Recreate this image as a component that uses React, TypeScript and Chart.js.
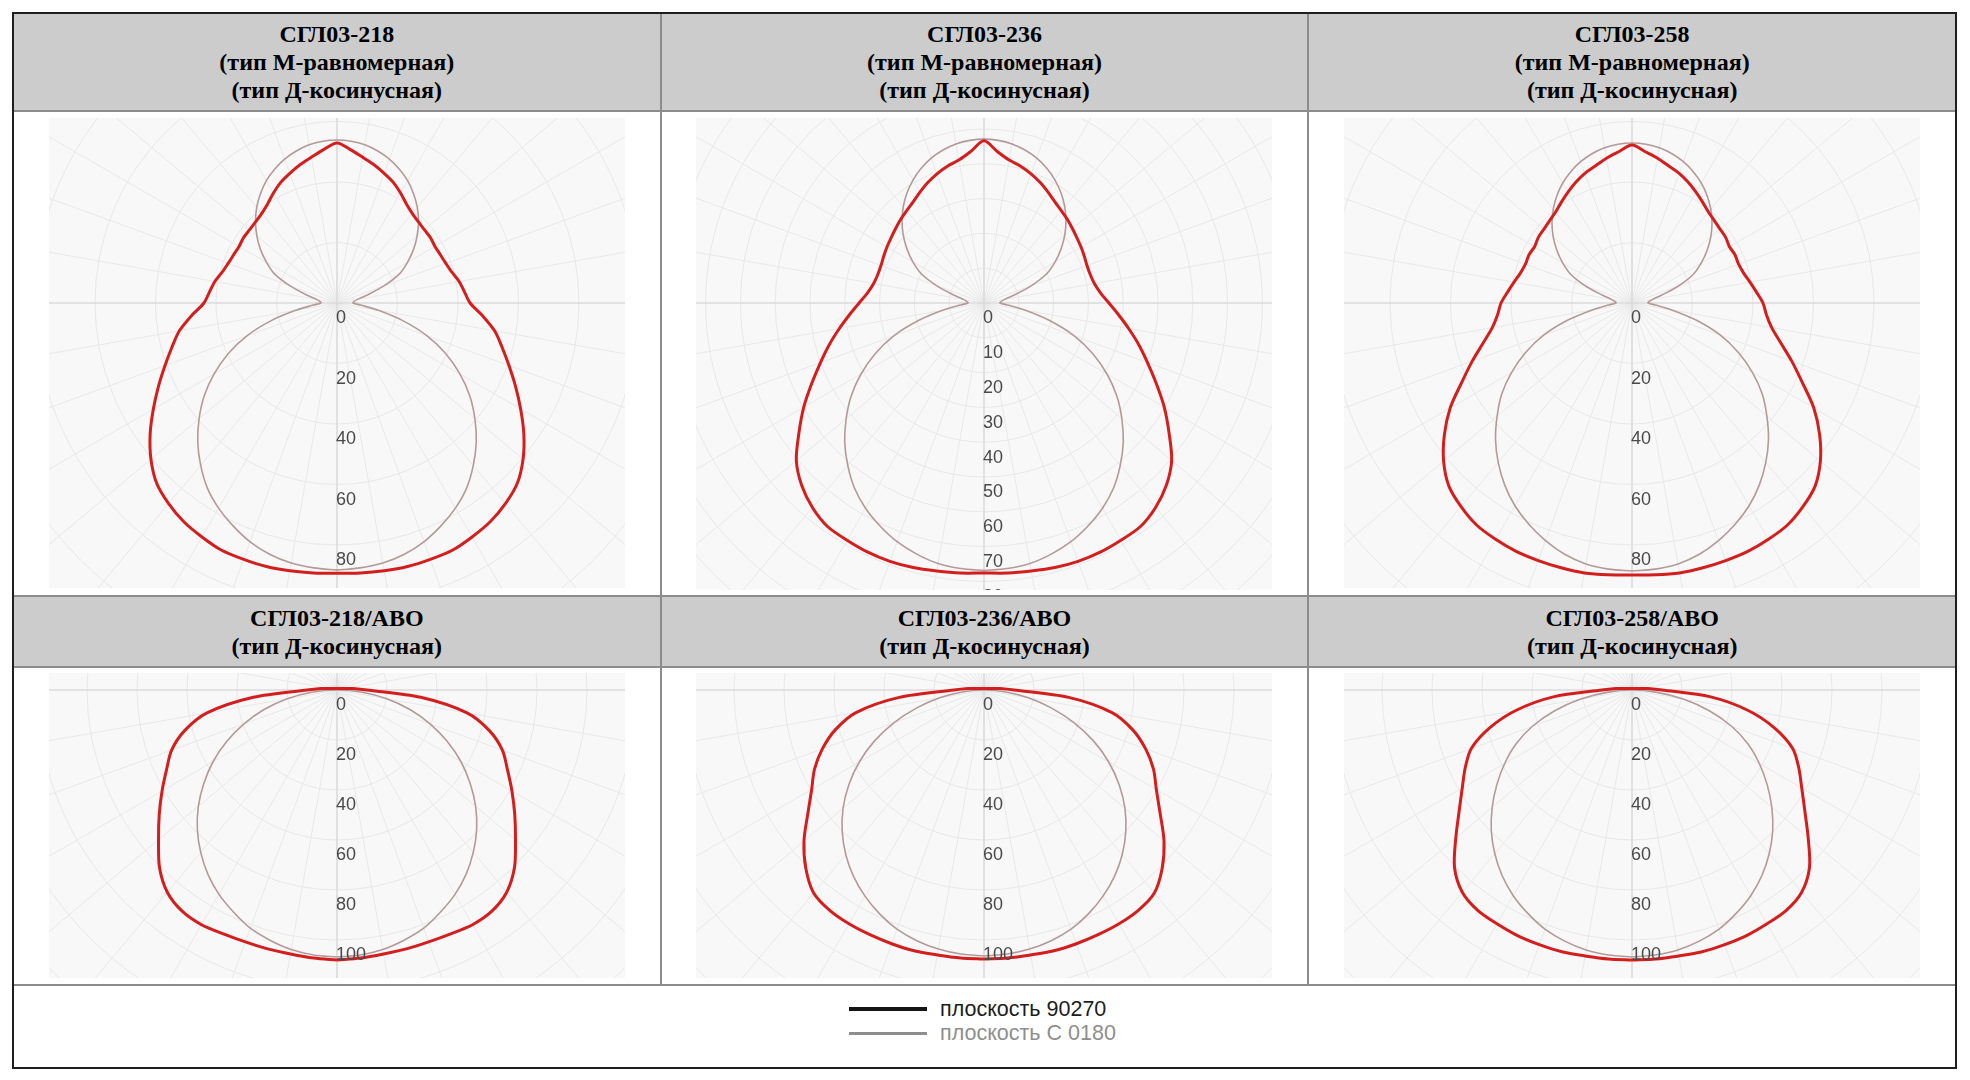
import React, { useEffect, useRef } from "react";
import { Chart, registerables } from "chart.js";

Chart.register(...registerables);

// Polar angle from nadir (0°) to zenith (180°), step 5°
const ANGLES = [0, 5, 10, 15, 20, 25, 30, 35, 40, 45, 50, 55, 60, 65, 70, 75, 80, 85, 90, 95, 100, 105, 110, 115, 120, 125, 130, 135, 140, 145, 150, 155, 160, 165, 170, 175, 180];

const TITLE_TOP = ["СГЛ03-218", "СГЛ03-236", "СГЛ03-258"];
const TITLE_BOTTOM = ["СГЛ03-218/АВО", "СГЛ03-236/АВО", "СГЛ03-258/АВО"];
const SUB_M = "(тип М-равномерная)";
const SUB_D = "(тип Д-косинусная)";
const LEGEND_LABELS = ["плоскость 90270", "плоскость С 0180"];

const TICKS_218 = [0, 20, 40, 60, 80];
const TICKS_236 = [0, 10, 20, 30, 40, 50, 60, 70, 80];
const TICKS_258 = [0, 20, 40, 60, 80];
const TICKS_ABO = [0, 20, 40, 60, 80, 100];

// plane 90-270 (thick red) and plane C 0-180 (thin grey), values per ANGLES
const RED_218 = [89.3, 89.6, 89.9, 90.2, 90.2, 90.2, 89.3, 88.3, 86.6, 84.3, 80.3, 75.4, 70.1, 65.1, 60.5, 56.5, 52.9, 48.3, 44.0, 42.3, 41.0, 39.3, 38.3, 37.7, 37.4, 37.7, 37.7, 38.0, 38.7, 40.0, 42.0, 44.0, 45.6, 47.3, 48.9, 50.9, 52.9];
const GRAY_218 = [88.3, 87.9, 87.3, 86.0, 84.0, 81.3, 78.3, 74.7, 70.1, 65.1, 59.5, 53.6, 46.9, 39.7, 31.7, 22.5, 13.9, 7.9, 5.3, 5.6, 6.9, 10.6, 16.5, 22.8, 26.9, 30.9, 34.6, 38.1, 41.3, 44.1, 46.7, 48.8, 50.6, 52.0, 53.1, 53.7, 53.9];

const RED_236 = [77.6, 77.9, 78.2, 78.7, 79.0, 79.0, 78.7, 78.4, 76.7, 74.1, 70.4, 64.9, 59.8, 54.6, 50.0, 46.0, 42.2, 38.8, 35.9, 33.6, 32.2, 31.6, 31.5, 31.8, 32.2, 32.6, 33.2, 33.9, 34.6, 35.5, 36.8, 38.2, 39.5, 40.7, 41.7, 43.7, 46.6];
const GRAY_236 = [76.9, 76.6, 76.0, 74.7, 73.0, 70.7, 68.1, 64.9, 60.9, 56.6, 51.7, 46.6, 40.8, 34.5, 27.6, 19.5, 12.1, 6.9, 4.6, 4.9, 6.0, 9.2, 14.4, 19.9, 23.6, 27.0, 30.3, 33.3, 36.1, 38.6, 40.8, 42.7, 44.3, 45.5, 46.4, 46.9, 47.1];

const RED_258 = [89.9, 90.2, 90.6, 90.6, 90.6, 90.6, 90.2, 89.6, 87.9, 85.6, 81.3, 75.7, 69.4, 62.1, 56.2, 50.9, 46.9, 44.6, 43.3, 41.3, 39.6, 38.2, 37.5, 37.6, 37.2, 37.8, 38.0, 38.5, 39.3, 40.7, 42.3, 44.0, 45.6, 46.9, 48.6, 50.2, 52.2];
const GRAY_258 = [88.6, 88.3, 87.6, 86.0, 83.6, 80.7, 77.4, 73.4, 68.8, 63.8, 58.2, 52.6, 46.0, 38.8, 31.1, 22.1, 13.6, 7.9, 5.3, 5.6, 6.9, 10.2, 16.2, 22.3, 26.4, 30.3, 34.0, 37.4, 40.5, 43.3, 45.8, 47.9, 49.7, 51.1, 52.1, 52.7, 52.9];

const RED_218_ABO = [108, 107.6, 107.2, 107.2, 107.2, 107.6, 108.4, 108.0, 105.6, 100.4, 93.2, 86.8, 80.8, 75.2, 70.4, 63.2, 52.8, 33.6, 12, 6.4, 3.6, 2.4, 1.8, 1.4, 1.2, 1.1, 1.0, 0.9, 0.8, 0.8, 0.7, 0.7, 0.6, 0.6, 0.6, 0.6, 0.6];
const GRAY_218_ABO = [106.8, 106.4, 105.4, 103.6, 101.4, 98.0, 94.4, 90.0, 84.8, 79.0, 72.4, 65.0, 57.2, 48.6, 39.6, 30.2, 20.2, 10.2, 0];

const RED_236_ABO = [107.6, 107.6, 107.6, 108, 108, 108, 108, 107.6, 106, 100.8, 94, 86, 79.6, 74.8, 68.8, 61.6, 52, 34, 12, 6.4, 3.6, 2.4, 1.8, 1.4, 1.2, 1.1, 1.0, 0.9, 0.8, 0.8, 0.7, 0.7, 0.6, 0.6, 0.6, 0.6, 0.6];
const GRAY_236_ABO = [106.4, 106.0, 105.2, 103.8, 101.8, 98.8, 95.2, 91.0, 86.0, 80.2, 73.6, 66.0, 57.6, 48.4, 38.4, 28.0, 18.0, 8.8, 0];

const RED_258_ABO = [108, 108, 108, 108.4, 108.4, 108.4, 108, 107.6, 105.6, 100.4, 92, 84.4, 78.4, 73.6, 68.4, 59.2, 47.2, 31.6, 12, 6.4, 3.6, 2.4, 1.8, 1.4, 1.2, 1.1, 1.0, 0.9, 0.8, 0.8, 0.7, 0.7, 0.6, 0.6, 0.6, 0.6, 0.6];
const GRAY_258_ABO = [106.8, 106.4, 105.6, 104.0, 101.8, 98.6, 95.0, 90.6, 85.4, 79.6, 73.0, 66.0, 58.8, 51.2, 42.4, 32.0, 20.8, 9.6, 0];

type PolarCfg = {
  red: number[];
  gray: number[];
  ticks: number[];
  ringStep: number;
  ppu: number; // pixels per unit
  width: number;
  height: number;
  cx: number;
  cy: number;
  top: number;
};

const TOP_CHARTS: PolarCfg[] = [
  { red: RED_218, gray: GRAY_218, ticks: TICKS_218, ringStep: 20, ppu: 3.025, width: 576, height: 470, cx: 288, cy: 185, top: 6 },
  { red: RED_236, gray: GRAY_236, ticks: TICKS_236, ringStep: 10, ppu: 3.48, width: 576, height: 472, cx: 288, cy: 185, top: 6 },
  { red: RED_258, gray: GRAY_258, ticks: TICKS_258, ringStep: 20, ppu: 3.025, width: 576, height: 470, cx: 288, cy: 185, top: 6 },
];

const BOTTOM_CHARTS: PolarCfg[] = [
  { red: RED_218_ABO, gray: GRAY_218_ABO, ticks: TICKS_ABO, ringStep: 20, ppu: 2.5, width: 576, height: 305, cx: 288, cy: 17, top: 5 },
  { red: RED_236_ABO, gray: GRAY_236_ABO, ticks: TICKS_ABO, ringStep: 20, ppu: 2.5, width: 576, height: 305, cx: 288, cy: 17, top: 5 },
  { red: RED_258_ABO, gray: GRAY_258_ABO, ticks: TICKS_ABO, ringStep: 20, ppu: 2.5, width: 576, height: 305, cx: 288, cy: 17, top: 5 },
];

function toPoints(values: number[]) {
  const n = values.length;
  const pts: { x: number; y: number }[] = [];
  for (let i = 0; i < n; i++) {
    const t = (ANGLES[i] * Math.PI) / 180;
    pts.push({ x: values[i] * Math.sin(t), y: -values[i] * Math.cos(t) });
  }
  for (let i = n - 2; i >= 0; i--) {
    const t = (ANGLES[i] * Math.PI) / 180;
    pts.push({ x: -values[i] * Math.sin(t), y: -values[i] * Math.cos(t) });
  }
  return pts;
}

function makeGridPlugin(cfg: PolarCfg) {
  return {
    id: "polarGrid",
    beforeDatasetsDraw(chart: any) {
      const { ctx, chartArea: a } = chart;
      const xs = chart.scales.x;
      const ys = chart.scales.y;
      const cx = xs.getPixelForValue(0);
      const cy = ys.getPixelForValue(0);
      const ppu = xs.getPixelForValue(1) - cx;
      ctx.save();
      ctx.fillStyle = "#f8f8f8";
      ctx.fillRect(a.left, a.top, a.right - a.left, a.bottom - a.top);
      ctx.beginPath();
      ctx.rect(a.left, a.top, a.right - a.left, a.bottom - a.top);
      ctx.clip();
      const maxR = Math.hypot(a.right - a.left, a.bottom - a.top);
      ctx.strokeStyle = "#e8e8e8";
      ctx.lineWidth = 1;
      for (let v = cfg.ringStep; v * ppu < maxR; v += cfg.ringStep) {
        ctx.beginPath();
        ctx.arc(cx, cy, v * ppu, 0, Math.PI * 2);
        ctx.stroke();
      }
      for (let d = 0; d < 360; d += 10) {
        if (d % 90 === 0) continue;
        const t = (d * Math.PI) / 180;
        ctx.beginPath();
        ctx.moveTo(cx, cy);
        ctx.lineTo(cx + maxR * Math.cos(t), cy + maxR * Math.sin(t));
        ctx.stroke();
      }
      ctx.strokeStyle = "#dadada";
      ctx.lineWidth = 1.6;
      ctx.beginPath();
      ctx.moveTo(a.left, cy);
      ctx.lineTo(a.right, cy);
      ctx.moveTo(cx, a.top);
      ctx.lineTo(cx, a.bottom);
      ctx.stroke();
      ctx.restore();
    },
    afterDatasetsDraw(chart: any) {
      const { ctx } = chart;
      const xs = chart.scales.x;
      const ys = chart.scales.y;
      const cx = xs.getPixelForValue(0);
      ctx.save();
      ctx.font = '18px "Liberation Sans", Arial, sans-serif';
      ctx.fillStyle = "#4a4a4a";
      ctx.textAlign = "left";
      ctx.textBaseline = "middle";
      cfg.ticks.forEach((v) => {
        const y = ys.getPixelForValue(-v) + 15.5;
        ctx.fillText(String(v), cx - 1, y);
      });
      ctx.restore();
    },
  };
}

function PolarChart({ cfg }: { cfg: PolarCfg }) {
  const ref = useRef<HTMLCanvasElement | null>(null);
  useEffect(() => {
    if (!ref.current) return;
    const xMin = -cfg.cx / cfg.ppu;
    const xMax = (cfg.width - cfg.cx) / cfg.ppu;
    const yMax = cfg.cy / cfg.ppu;
    const yMin = -(cfg.height - cfg.cy) / cfg.ppu;
    const chart = new Chart(ref.current, {
      type: "scatter",
      data: {
        datasets: [
          {
            label: LEGEND_LABELS[0],
            data: toPoints(cfg.red),
            showLine: true,
            borderColor: "#d41e1e",
            borderWidth: 3,
            pointRadius: 0,
            tension: 0.3,
          },
          {
            label: LEGEND_LABELS[1],
            data: toPoints(cfg.gray),
            showLine: true,
            borderColor: "#b39a9a",
            borderWidth: 1.6,
            pointRadius: 0,
            tension: 0.3,
          },
        ],
      },
      options: {
        animation: false,
        responsive: true,
        maintainAspectRatio: false,
        events: [],
        layout: { padding: 0 },
        scales: {
          x: { type: "linear", min: xMin, max: xMax, display: false },
          y: { type: "linear", min: yMin, max: yMax, display: false },
        },
        plugins: {
          legend: { display: false },
          tooltip: { enabled: false },
        },
      },
      plugins: [makeGridPlugin(cfg)],
    } as any);
    return () => chart.destroy();
  }, [cfg]);
  return (
    <div
      style={{
        position: "absolute",
        left: `calc(50% - ${cfg.cx}px)`,
        top: cfg.top,
        width: cfg.width,
        height: cfg.height,
      }}
    >
      <canvas ref={ref} />
    </div>
  );
}

const headerStyle: React.CSSProperties = {
  background: "#cccccc",
  display: "flex",
  flexDirection: "column",
  alignItems: "center",
  justifyContent: "center",
  textAlign: "center",
  font: 'bold 24px "Liberation Serif", "Times New Roman", serif',
  lineHeight: "28px",
  color: "#000",
};

const cellStyle: React.CSSProperties = {
  background: "#ffffff",
  position: "relative",
  overflow: "hidden",
};

export default function App() {
  return (
    <div
      style={{
        position: "absolute",
        left: 12,
        top: 12,
        width: 1945,
        height: 1057,
        boxSizing: "border-box",
        border: "2px solid #1f1f1f",
        background: "#8c8c8c",
        display: "grid",
        gridTemplateColumns: "repeat(3, 1fr)",
        gridTemplateRows: "96px 483px 69px 316px 1fr",
        gap: 2,
      }}
    >
      {TITLE_TOP.map((t) => (
        <div key={t} style={headerStyle}>
          <div>{t}</div>
          <div>{SUB_M}</div>
          <div>{SUB_D}</div>
        </div>
      ))}
      {TOP_CHARTS.map((cfg, i) => (
        <div key={"tc" + i} style={cellStyle}>
          <PolarChart cfg={cfg} />
        </div>
      ))}
      {TITLE_BOTTOM.map((t) => (
        <div key={t} style={headerStyle}>
          <div>{t}</div>
          <div>{SUB_D}</div>
        </div>
      ))}
      {BOTTOM_CHARTS.map((cfg, i) => (
        <div key={"bc" + i} style={cellStyle}>
          <PolarChart cfg={cfg} />
        </div>
      ))}
      <div style={{ gridColumn: "1 / span 3", background: "#ffffff", position: "relative" }}>
        <div
          style={{
            position: "absolute",
            left: 835,
            top: 11,
            font: '21.5px "Liberation Sans", Arial, sans-serif',
          }}
        >
          <div style={{ display: "flex", alignItems: "center", height: 24 }}>
            <div style={{ width: 78, height: 4, background: "#141414" }} />
            <div style={{ marginLeft: 13, color: "#1c1c1c" }}>{LEGEND_LABELS[0]}</div>
          </div>
          <div style={{ display: "flex", alignItems: "center", height: 24 }}>
            <div style={{ width: 78, height: 3, background: "#8e8e8e" }} />
            <div style={{ marginLeft: 13, color: "#8e8e8e" }}>{LEGEND_LABELS[1]}</div>
          </div>
        </div>
      </div>
    </div>
  );
}
